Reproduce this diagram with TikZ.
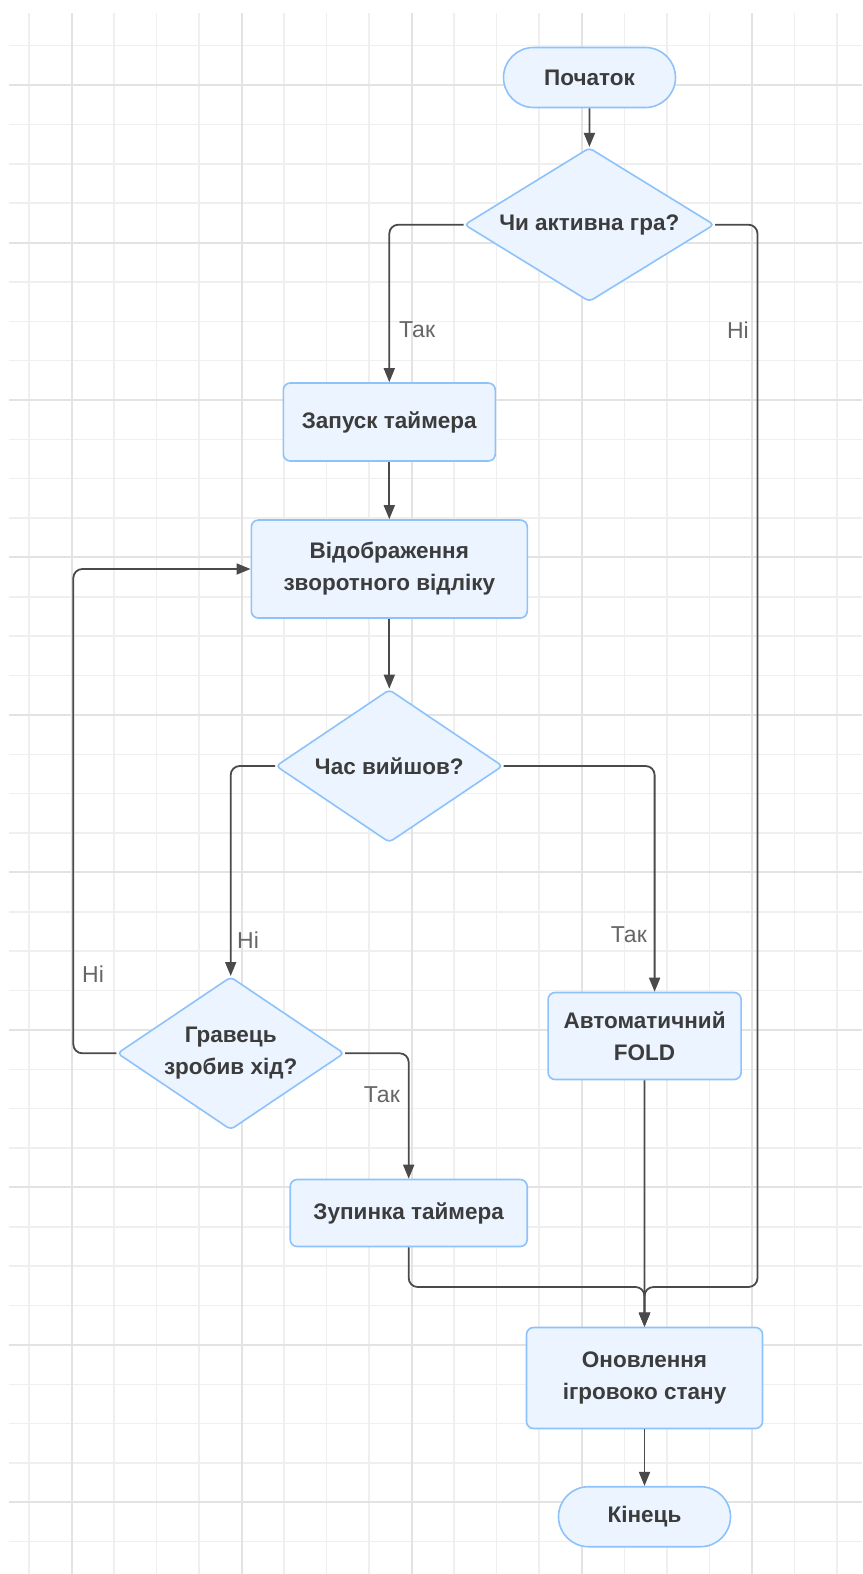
\documentclass[tikz,border=0pt]{standalone}
\usepackage{fontspec}
\setmainfont{Liberation Sans}
\usetikzlibrary{shapes.geometric,arrows.meta}
\definecolor{gridminor}{HTML}{EFEFEF}
\definecolor{gridmajor}{HTML}{E3E3E3}
\definecolor{nodefill}{HTML}{EBF4FF}
\definecolor{nodeborder}{HTML}{8DC2FB}
\definecolor{txt}{HTML}{3C3C3C}
\definecolor{lbl}{HTML}{666666}
\definecolor{conncol}{HTML}{4A4A4A}
\tikzset{
 base/.style={draw=nodeborder, fill=nodefill, line width=1.6pt, text=txt,
   font=\fontsize{22.5}{32}\selectfont\bfseries, align=center, inner sep=0pt},
 term/.style={base, rounded corners=30pt, minimum width=172pt, minimum height=60pt},
 proc/.style={base, rounded corners=7pt},
 dec/.style={base, diamond, shape aspect=1.5, rounded corners=4pt, minimum width=227pt, minimum height=153pt},
 conn/.style={draw=conncol, line width=1.8pt, rounded corners=9pt, -{Triangle[length=14pt,width=11pt]}},
 lab/.style={text=lbl, font=\fontsize{23}{26}\selectfont, inner sep=0pt},
}
\begin{document}
\begin{tikzpicture}[x=1pt,y=-1pt]
\useasboundingbox (0,0) rectangle (862,1574);
\fill[white] (0,0) rectangle (862,1574);
% grid
\foreach \j in {0,...,19} \draw[gridminor, line width=1.5pt] ({29+42.52*\j},13) -- ({29+42.52*\j},1574);
\foreach \k in {1,...,39} \draw[gridminor, line width=1.5pt] (9,{6.3+39.37*\k}) -- (862,{6.3+39.37*\k});
\foreach \j in {1,5,9,13,17} \draw[gridmajor, line width=2pt] ({29+42.52*\j},13) -- ({29+42.52*\j},1574);
\foreach \k in {2,6,...,38} \draw[gridmajor, line width=2pt] (9,{6.3+39.37*\k}) -- (862,{6.3+39.37*\k});

% nodes
\node[term] (start) at (589.5,77.5) {Початок};
\node[dec, minimum width=250pt, minimum height=154pt] (chi) at (589.3,224.7) {Чи активна гра?};
\node[proc, minimum width=212pt, minimum height=78pt] (zap) at (389.3,422) {Запуск таймера};
\node[proc, minimum width=276pt, minimum height=98pt] (vid) at (389.3,569) {Відображення\\зворотного відліку};
\node[dec] (chas) at (389.3,766) {Час вийшов?};
\node[proc, minimum width=193pt, minimum height=87pt] (fold) at (644.6,1036) {Автоматичний\\FOLD};
\node[dec] (grav) at (230.7,1053.3) {Гравець\\зробив хід?};
\node[proc, minimum width=237pt, minimum height=67pt] (zup) at (408.7,1213) {Зупинка таймера};
\node[proc, minimum width=236pt, minimum height=101pt] (onov) at (644.5,1378) {Оновлення\\ігровоко стану};
\node[term] (kin) at (644.5,1516.7) {Кінець};

% helper coordinates
\coordinate (rj) at (757.5,1287);
\coordinate (mj) at (644.5,1287);
\coordinate (lp) at (73.3,800);

% connectors
\draw[conn] (start) -- (chi);
\draw[conn] (chi.west) -| (zap.north);
\draw[conn] (chi.east) -| (rj) -| (onov.north);
\draw[conn] (zap) -- (vid);
\draw[conn] (vid) -- (chas);
\draw[conn] (chas.west) -| (grav.north);
\draw[conn] (chas.east) -| ([xshift=10pt]fold.north);
\draw[conn] (grav.west) -| (lp) |- (vid.west);
\draw[conn] (grav.east) -| (zup.north);
\draw[conn] (zup.south) |- (mj) -- (onov.north);
\draw[conn] (fold) -- (onov);
\draw[conn] (onov) -- (kin);

% labels
\node[lab, anchor=west] (l1) at (399,330) {Так};
\node[lab, anchor=east] (l2) at (749,330) {Ні};
\node[lab, anchor=west] (l3) at (237,940) {Ні};
\node[lab, anchor=east] (l4) at (647,935) {Так};
\node[lab, anchor=west] (l5) at (82,974) {Ні};
\node[lab, anchor=east] (l6) at (400,1095) {Так};
\end{tikzpicture}
\end{document}
